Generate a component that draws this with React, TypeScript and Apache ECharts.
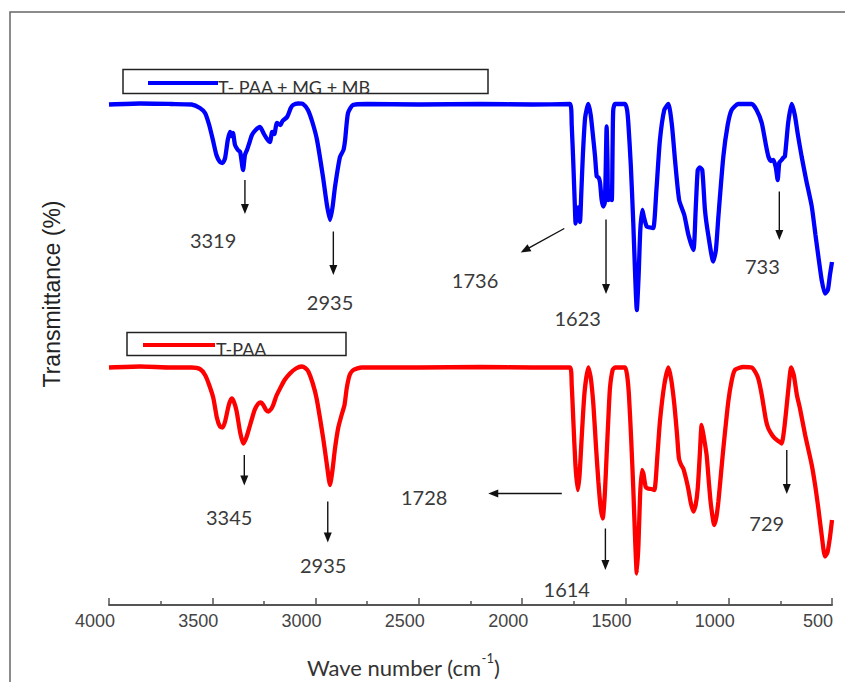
import React, { useEffect, useRef } from "react";
import * as echarts from "echarts";

// ---------- data ----------
const blueName = "T- PAA + MG + MB";
const redName = "T-PAA";

// [wavenumber (cm-1), transmittance (a.u., offset)]
const blueSpectrum: [number, number][] = [
  [4000, 100.1], [3850, 100.3], [3700, 100.2], [3600, 100.1], [3560, 99.4], [3535, 98.4], [3515, 96], [3497, 93],
  [3480, 90], [3463, 88.6], [3450, 88.4], [3438, 89.4], [3425, 93], [3414, 94.6], [3407, 93.8], [3400, 94.4],
  [3390, 92], [3376, 91], [3365, 90.6], [3351, 87], [3342, 90], [3332, 91], [3320, 92.5], [3308, 94],
  [3290, 95], [3269, 95.6], [3250, 94.2], [3235, 93.2], [3221, 92.6], [3210, 94.6], [3200, 94.2], [3187, 96.4],
  [3170, 96], [3160, 96.8], [3138, 97.6], [3120, 99.4], [3109, 100], [3085, 100.3], [3061, 100.2], [3037, 99],
  [3015, 96.5], [2993, 93], [2964, 85.6], [2945, 80], [2930, 77], [2918, 79.5], [2906, 83.6], [2882, 89.6],
  [2865, 91], [2857, 93], [2843, 98.4], [2819, 100], [2751, 100.2], [2500, 100.1], [2200, 100.2], [1950, 100.1],
  [1768, 100.2], [1760, 96], [1752, 88], [1745, 80], [1741, 76.3], [1735, 78], [1731, 77], [1728, 79.5],
  [1724, 77.5], [1720, 76.6], [1714, 82], [1706, 90], [1695, 97.5], [1680, 100.2], [1668, 98], [1655, 93],
  [1647, 89.7], [1639, 85.7], [1630, 85.5], [1623, 84.5], [1615, 81], [1607, 79.7], [1600, 80.5], [1596, 86],
  [1591, 95.7], [1587, 89], [1583, 81], [1572, 81.2], [1566, 81], [1562, 92], [1559, 99], [1550, 100.2],
  [1502, 100.2], [1492, 99], [1486, 96.4], [1474, 88], [1462, 76.4], [1452, 65], [1445, 59], [1436, 66],
  [1428, 75], [1418, 79], [1410, 77.5], [1397, 75.7], [1380, 75.5], [1365, 75.4], [1350, 83], [1333, 93],
  [1312, 99], [1292, 100.2], [1275, 96], [1260, 89], [1240, 81], [1215, 78], [1195, 74], [1171, 71],
  [1160, 79], [1150, 87], [1140, 87.5], [1128, 87], [1115, 79], [1099, 74], [1075, 68.7], [1062, 71],
  [1050, 77.7], [1026, 89.7], [1005, 96], [986, 99], [954, 100.2], [889, 100.2], [865, 99], [840, 96.4],
  [820, 92], [808, 89.7], [795, 88.8], [784, 89], [772, 87.5], [763, 85], [755, 88.5], [744, 89],
  [735, 89.5], [728, 89.7], [712, 96.5], [695, 100.2], [680, 98], [665, 94], [647, 89.7], [625, 85],
  [598, 79.7], [580, 74], [566, 69.7], [550, 65], [534, 62.3], [520, 63], [510, 66], [500, 68.6],
];

const redSpectrum: [number, number][] = [
  [4000, 47.5], [3850, 47.7], [3700, 47.5], [3600, 47.5], [3560, 47.2], [3535, 46], [3515, 44], [3495, 41.4],
  [3478, 37.5], [3463, 35.7], [3450, 35.5], [3438, 36.7], [3420, 40], [3406, 41.3], [3394, 40.5], [3382, 38.7],
  [3365, 34.5], [3350, 32.3], [3335, 33.5], [3317, 36], [3295, 39], [3277, 40.3], [3265, 40.5], [3253, 40],
  [3240, 39], [3229, 38.7], [3215, 39.2], [3205, 40], [3190, 41.8], [3172, 43.3], [3150, 45], [3124, 46.3],
  [3095, 47.3], [3067, 47.7], [3050, 47.4], [3035, 46.7], [3015, 44.5], [2995, 41.3], [2963, 33.3], [2945, 28],
  [2930, 24], [2918, 27], [2906, 31.3], [2890, 35.5], [2874, 38], [2860, 40], [2849, 43.4], [2835, 46],
  [2817, 47], [2777, 47.5], [2500, 47.5], [2200, 47.6], [1950, 47.5], [1768, 47.5], [1760, 44], [1752, 36.7],
  [1742, 28], [1731, 23], [1722, 26], [1712, 33.3], [1698, 42.5], [1680, 47.5], [1668, 45.5], [1655, 40],
  [1643, 32], [1631, 24.7], [1620, 19.5], [1610, 17.3], [1600, 22], [1591, 30], [1583, 37], [1575, 43.3],
  [1562, 47], [1550, 47.5], [1502, 47.5], [1492, 46], [1483, 42], [1472, 33], [1462, 23.3], [1452, 12],
  [1445, 6.3], [1437, 12], [1429, 22], [1420, 27], [1413, 26.3], [1402, 23.6], [1392, 23.3], [1375, 23.2],
  [1360, 23], [1345, 30], [1333, 36.7], [1312, 44], [1292, 47.5], [1278, 45], [1263, 40], [1250, 34],
  [1241, 29.3], [1230, 28], [1220, 27.3], [1208, 25.5], [1196, 23.3], [1184, 20.5], [1171, 18.7], [1160, 20],
  [1150, 23.3], [1140, 30], [1131, 36], [1122, 34], [1107, 30], [1095, 24], [1086, 20], [1070, 16],
  [1060, 17.5], [1050, 20.7], [1038, 26], [1026, 31.3], [1002, 40.7], [985, 45], [970, 47], [930, 47.6],
  [889, 47.5], [870, 46.5], [857, 45.3], [840, 42], [820, 37], [808, 35.3], [790, 34], [776, 33.3],
  [760, 32.8], [744, 32.3], [732, 35], [719, 40], [708, 44.5], [698, 47.5], [685, 46], [670, 42],
  [655, 39.3], [630, 34], [598, 28], [580, 23.5], [566, 19.3], [550, 14], [534, 9.7], [522, 10.5],
  [510, 13.5], [500, 17],
];

const xMin = 500;
const xMax = 4000;
const xStep = 500;

// peak annotations: label, arrow start, arrow end, label anchor (all in data units)
const peakLabels = ["3319", "2935", "1736", "1623", "733", "3345", "2935", "1728", "1614", "729"];
const arrowFrom: [number, number][] = [
  [3342, 85], [2914, 74.7], [1796, 75.3], [1594, 77.1], [755, 82.7],
  [3345, 30], [2941, 20.7], [1808, 22.3], [1597, 15.3], [719, 31],
];
const arrowTo: [number, number][] = [
  [3342, 78.2], [2914, 66], [2007, 70.5], [1594, 62.2], [755, 73],
  [3345, 23.9], [2941, 12.5], [2164, 22.3], [1597, 7], [719, 22.2],
];
const labelAt: [number, number][] = [
  [3496, 73], [2930, 60.7], [2228, 65], [1731, 57.5], [837, 67.9],
  [3418, 17.7], [2963, 8], [2474, 21.7], [1784, 3.3], [816, 16.5],
];

const BLUE = "#0000ff";
const RED = "#ff0000";
const FONT = "Lato";

export default function App() {
  const ref = useRef<HTMLDivElement>(null);

  useEffect(() => {
    if (!ref.current) return;
    const chart = echarts.init(ref.current, null, { renderer: "svg" });

    const lineSeries = (name: string, data: [number, number][], color: string) => ({
      name,
      type: "line",
      data,
      showSymbol: false,
      smooth: 0.2,
      lineStyle: { color, width: 4.3 },
      itemStyle: { color },
      z: 2,
    });

    chart.setOption({
      animation: false,
      backgroundColor: "#ffffff",
      grid: { left: 109, right: 13, top: 55, bottom: 77 },
      xAxis: {
        type: "value",
        min: xMin,
        max: xMax,
        interval: xStep,
        inverse: true,
        axisLine: { show: true, onZero: false, lineStyle: { color: "#555", width: 2 } },
        axisTick: { show: true, inside: true, length: 7, lineStyle: { color: "#555", width: 1.5 } },
        minorTick: { show: true, splitNumber: 2, length: 4, lineStyle: { color: "#555", width: 1.5 } },
        axisLabel: {
          color: "#444",
          fontSize: 18,
          fontFamily: "Liberation Sans",
          margin: 7,
          padding: [0, 28, 0, 0],
          formatter: (v: number) => String(v),
        },
        splitLine: { show: false },
        minorSplitLine: { show: false },
      },
      yAxis: { type: "value", min: 0, max: 110, show: false },
      series: [lineSeries(blueName, blueSpectrum, BLUE), lineSeries(redName, redSpectrum, RED)],
    });

    const toPx = (p: [number, number]) =>
      chart.convertToPixel({ xAxisIndex: 0, yAxisIndex: 0 }, p) as number[];

    const graphics: any[] = [];

    // outer frame
    graphics.push({
      type: "rect",
      shape: { x: 10, y: 12, width: 900, height: 720 },
      style: { fill: "none", stroke: "#666", lineWidth: 1.5 },
      silent: true,
    });

    // legends
    const legend = (x: number, y: number, w: number, h: number, lx1: number, lx2: number, ly: number, color: string, text: string, tx: number, ty: number) => {
      graphics.push({
        type: "rect",
        shape: { x, y, width: w, height: h },
        style: { fill: "none", stroke: "#222", lineWidth: 1.5 },
        z: 20,
      });
      graphics.push({
        type: "line",
        shape: { x1: lx1, y1: ly, x2: lx2, y2: ly },
        style: { stroke: color, lineWidth: 4 },
        z: 21,
      });
      graphics.push({
        type: "text",
        x: tx,
        y: ty,
        style: { text, fontSize: 18, fontFamily: FONT, fill: "#333", align: "left", verticalAlign: "middle" },
        z: 22,
      });
    };
    legend(123, 69.5, 365, 24, 148, 218, 83, BLUE, blueName, 218, 87);
    legend(127, 332.5, 219, 23, 143, 215, 345, RED, redName, 216, 349);

    // arrows + labels
    peakLabels.forEach((label, i) => {
      const [x0, y0] = toPx(arrowFrom[i]);
      const [x1, y1] = toPx(arrowTo[i]);
      const [tx, ty] = toPx(labelAt[i]);
      const ang = Math.atan2(y1 - y0, x1 - x0);
      const L = 10;
      const W = 4;
      const c = Math.cos(ang);
      const s = Math.sin(ang);
      const bx = x1 - L * c;
      const by = y1 - L * s;
      graphics.push({
        type: "line",
        shape: { x1: x0, y1: y0, x2: bx + 1 * c, y2: by + 1 * s },
        style: { stroke: "#111", lineWidth: 1.4 },
        z: 15,
      });
      graphics.push({
        type: "polygon",
        shape: { points: [[x1, y1], [bx - W * s, by + W * c], [bx + W * s, by - W * c]] },
        style: { fill: "#111" },
        z: 15,
      });
      graphics.push({
        type: "text",
        x: tx,
        y: ty,
        style: { text: label, fontSize: 20, fontFamily: FONT, fill: "#3a3a3a", align: "center", verticalAlign: "middle" },
        z: 16,
      });
    });

    // axis titles
    graphics.push({
      type: "text",
      x: 52,
      y: 294,
      rotation: Math.PI / 2,
      style: {
        text: "Transmittance (%)",
        fontSize: 23,
        fontFamily: "Liberation Sans",
        fill: "#222",
        align: "center",
        verticalAlign: "middle",
      },
    });
    graphics.push({
      type: "text",
      x: 307,
      y: 667,
      style: {
        text: "{a|Wave number (cm}{s|-1}{a|)}",
        align: "left",
        verticalAlign: "middle",
        rich: {
          a: { fontSize: 22, fontFamily: FONT, fill: "#333", lineHeight: 32 },
          s: { fontSize: 13, fontFamily: FONT, fill: "#333", lineHeight: 12, verticalAlign: "top" },
        },
      },
    });

    chart.setOption({ graphic: graphics });

    return () => chart.dispose();
  }, []);

  return (
    <div
      ref={ref}
      style={{ position: "absolute", left: 0, top: 0, width: 845, height: 682 }}
    />
  );
}
